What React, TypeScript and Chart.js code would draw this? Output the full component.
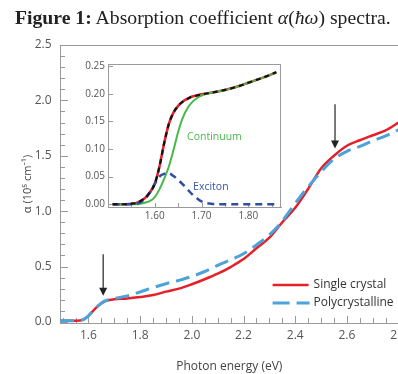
import React, { useEffect, useRef } from 'react';
import { Chart, registerables } from 'chart.js';
Chart.register(...registerables);

// ---------- main chart data ----------
const mainEnergy = [1.49, 1.52, 1.55, 1.58, 1.60, 1.62, 1.64, 1.66, 1.68, 1.70, 1.75, 1.80, 1.85, 1.90, 1.95, 2.00, 2.05, 2.10, 2.15, 2.20, 2.25, 2.30, 2.35, 2.40, 2.45, 2.50, 2.55, 2.60, 2.65, 2.70, 2.75, 2.80];
const singleCrystal = [0.01, 0.01, 0.01, 0.02, 0.055, 0.105, 0.15, 0.18, 0.197, 0.205, 0.212, 0.225, 0.242, 0.273, 0.30, 0.34, 0.385, 0.435, 0.495, 0.567, 0.665, 0.76, 0.90, 1.03, 1.20, 1.385, 1.50, 1.59, 1.64, 1.685, 1.73, 1.80];
const polycrystalline = [0.01, 0.01, 0.01, 0.02, 0.055, 0.105, 0.15, 0.185, 0.20, 0.21, 0.235, 0.27, 0.31, 0.345, 0.375, 0.41, 0.455, 0.51, 0.56, 0.615, 0.695, 0.785, 0.91, 1.07, 1.22, 1.355, 1.47, 1.54, 1.585, 1.635, 1.68, 1.735];
const mainXTickValues = [1.6, 1.8, 2.0, 2.2, 2.4, 2.6, 2.8];
const mainYTickValues = [0, 0.5, 1.0, 1.5, 2.0, 2.5];
const arrowEnergy = [1.657, 2.554];
const arrowStart = [0.61, 1.964];
const arrowEnd = [0.237, 1.565];
const legendLabels = ['Single crystal', 'Polycrystalline'];

// ---------- inset data ----------
const insetEnergy = [1.51, 1.53, 1.55, 1.56, 1.57, 1.58, 1.59, 1.60, 1.61, 1.62, 1.63, 1.64, 1.65, 1.66, 1.67, 1.68, 1.69, 1.70, 1.72, 1.74, 1.76, 1.78, 1.80, 1.82, 1.84, 1.86];
const insetMeasured = [0, 0, 0.001, 0.002, 0.006, 0.012, 0.022, 0.037, 0.068, 0.11, 0.145, 0.166, 0.178, 0.186, 0.191, 0.195, 0.197, 0.199, 0.202, 0.205, 0.209, 0.214, 0.220, 0.226, 0.232, 0.239];
const insetFit = [0, 0, 0.001, 0.002, 0.006, 0.012, 0.022, 0.037, 0.068, 0.11, 0.145, 0.166, 0.178, 0.186, 0.191, 0.195, 0.197, 0.199, 0.202, 0.205, 0.209, 0.214, 0.220, 0.226, 0.232, 0.239];
const insetContinuum = [0, 0, 0, 0, 0.001, 0.003, 0.006, 0.013, 0.027, 0.046, 0.068, 0.098, 0.131, 0.157, 0.174, 0.185, 0.192, 0.197, 0.202, 0.205, 0.209, 0.214, 0.220, 0.226, 0.232, 0.239];
const insetExciton = [0, 0, 0, 0.001, 0.004, 0.01, 0.022, 0.037, 0.05, 0.055, 0.056, 0.051, 0.044, 0.036, 0.027, 0.018, 0.011, 0.005, 0.001, 0, 0, 0, 0, 0, 0, 0];
const insetXTickValues = [1.6, 1.7, 1.8];
const insetYTickValues = [0, 0.05, 0.1, 0.15, 0.2, 0.25];
const insetLabels = ['Continuum', 'Exciton'];
const insetLabelX = [1.669, 1.682];
const insetLabelY = [0.122, 0.032];

const FONT = '"Open Sans", "Noto Sans", "DejaVu Sans", sans-serif';
const AXIS = '#9a9a9a';
const TICKTXT = '#555';

function pts(xs: number[], ys: number[]) {
  return xs.map((x, i) => ({ x, y: ys[i] }));
}

function range(a: number, b: number, step: number) {
  const out: number[] = [];
  for (let v = a; v <= b + 1e-9; v += step) out.push(Math.round(v * 1000) / 1000);
  return out;
}

function makeTickPlugin(o: any) {
  return {
    id: 'inwardTicks',
    beforeDatasetsDraw(chart: any) {
      const { ctx, chartArea: ca, scales } = chart;
      const xs = scales.x, ys = scales.y;
      ctx.save();
      ctx.strokeStyle = AXIS;
      ctx.lineWidth = 1;
      ctx.beginPath();
      ctx.moveTo(ca.left, Math.round(ca.top) + 0.5);
      ctx.lineTo(ca.right, Math.round(ca.top) + 0.5);
      if (o.rightFrame) {
        ctx.moveTo(Math.round(ca.right) - 0.5, ca.top);
        ctx.lineTo(Math.round(ca.right) - 0.5, ca.bottom);
      }
      o.xMinor.forEach((v: number) => {
        const px = Math.round(xs.getPixelForValue(v)) + 0.5;
        if (px < ca.left || px > ca.right) return;
        const major = o.xMajor.some((m: number) => Math.abs(m - v) < 1e-6);
        const len = major ? o.xMajorLen : o.xMinorLen;
        ctx.moveTo(px, ca.bottom);
        ctx.lineTo(px, ca.bottom - len);
      });
      o.yMinor.forEach((v: number) => {
        const py = Math.round(ys.getPixelForValue(v)) + 0.5;
        const major = o.yMajor.some((m: number) => Math.abs(m - v) < 1e-6);
        const len = major ? o.yMajorLen : o.yMinorLen;
        ctx.moveTo(ca.left, py);
        ctx.lineTo(ca.left + len, py);
      });
      ctx.stroke();
      ctx.restore();
    },
  };
}

const mainDecor = {
  id: 'mainDecor',
  afterDatasetsDraw(chart: any) {
    const { ctx, chartArea: ca, scales } = chart;
    ctx.save();
    ctx.strokeStyle = '#222';
    ctx.fillStyle = '#222';
    ctx.lineWidth = 1.2;
    arrowEnergy.forEach((e, i) => {
      const px = scales.x.getPixelForValue(e);
      const y0 = scales.y.getPixelForValue(arrowStart[i]);
      const y1 = scales.y.getPixelForValue(arrowEnd[i]);
      ctx.beginPath();
      ctx.moveTo(px, y0);
      ctx.lineTo(px, y1 - 6);
      ctx.stroke();
      ctx.beginPath();
      ctx.moveTo(px, y1);
      ctx.lineTo(px - 4, y1 - 8);
      ctx.lineTo(px + 4, y1 - 8);
      ctx.closePath();
      ctx.fill();
    });
    const lx1 = ca.right - 126, lx2 = ca.right - 90, tx = ca.right - 85;
    const ly = [ca.bottom - 38, ca.bottom - 20];
    ctx.lineWidth = 2.5;
    ctx.strokeStyle = '#e4202a';
    ctx.beginPath();
    ctx.moveTo(lx1, ly[0]);
    ctx.lineTo(lx2, ly[0]);
    ctx.stroke();
    ctx.lineWidth = 3;
    ctx.strokeStyle = '#4da2da';
    ctx.setLineDash([17, 7]);
    ctx.beginPath();
    ctx.moveTo(lx1, ly[1]);
    ctx.lineTo(lx2 + 1, ly[1]);
    ctx.stroke();
    ctx.setLineDash([]);
    ctx.fillStyle = '#333';
    ctx.font = `12px ${FONT}`;
    ctx.textBaseline = 'middle';
    ctx.textAlign = 'left';
    legendLabels.forEach((t, i) => ctx.fillText(t, tx, ly[i]));
    ctx.restore();
  },
};

const insetDecor = {
  id: 'insetDecor',
  afterDatasetsDraw(chart: any) {
    const { ctx, scales } = chart;
    ctx.save();
    ctx.font = `10.5px ${FONT}`;
    ctx.textBaseline = 'middle';
    ctx.textAlign = 'left';
    const colors = ['#46b94a', '#3a55a8'];
    insetLabels.forEach((t, i) => {
      ctx.fillStyle = colors[i];
      ctx.fillText(t, scales.x.getPixelForValue(insetLabelX[i]), scales.y.getPixelForValue(insetLabelY[i]));
    });
    ctx.restore();
  },
};

function MainChart() {
  const ref = useRef<HTMLCanvasElement>(null);
  useEffect(() => {
    const chart = new Chart(ref.current!, {
      type: 'line',
      data: {
        datasets: [
          { label: legendLabels[0], data: pts(mainEnergy, singleCrystal), borderColor: '#e4202a', borderWidth: 2.5, pointRadius: 0, cubicInterpolationMode: 'monotone', order: 1 },
          { label: legendLabels[1], data: pts(mainEnergy, polycrystalline), borderColor: '#4da2da', borderWidth: 3, borderDash: [14, 7], pointRadius: 0, cubicInterpolationMode: 'monotone', order: 0 },
        ],
      },
      options: {
        responsive: false,
        animation: false,
        layout: { padding: { top: 45, left: 0, right: 21.4, bottom: 0 } },
        plugins: { legend: { display: false }, tooltip: { enabled: false } },
        scales: {
          x: {
            type: 'linear', min: 1.49, max: 2.8,
            afterBuildTicks: (s: any) => { s.ticks = mainXTickValues.map((v) => ({ value: v })); },
            afterFit: (s: any) => { s.height = 374 - 323; },
            grid: { display: false, drawTicks: false },
            border: { display: true, color: AXIS, width: 1 },
            ticks: { color: TICKTXT, font: { family: FONT, size: 12 }, padding: 5, maxRotation: 0, autoSkip: false, callback: (v: any) => Number(v).toFixed(1) },
            title: { display: true, text: 'Photon energy (eV)', color: '#444', font: { family: FONT, size: 12 }, padding: { top: 0, bottom: 0 } },
          },
          y: {
            type: 'linear', min: -0.01, max: 2.5,
            afterBuildTicks: (s: any) => { s.ticks = mainYTickValues.map((v) => ({ value: v })); },
            afterFit: (s: any) => { s.width = 60; },
            grid: { display: false, drawTicks: false },
            border: { display: true, color: AXIS, width: 1 },
            ticks: { color: TICKTXT, font: { family: FONT, size: 12 }, padding: 8.5, callback: (v: any) => Number(v).toFixed(1) },
            title: { display: true, text: 'α (10⁵ cm⁻¹)', color: '#444', font: { family: FONT, size: 11 }, padding: { top: 21.4, bottom: 0 } },
          },
        },
      } as any,
      plugins: [
        makeTickPlugin({ xMinor: range(1.5, 2.8, 0.05), xMajor: mainXTickValues, xMajorLen: 7, xMinorLen: 5, yMinor: range(0, 2.5, 0.1), yMajor: mainYTickValues, yMajorLen: 8, yMinorLen: 5, rightFrame: false }),
        mainDecor,
      ],
    });
    return () => chart.destroy();
  }, []);
  return <canvas ref={ref} width={420} height={374} style={{ position: 'absolute', left: 0, top: 0 }} />;
}

function InsetChart() {
  const ref = useRef<HTMLCanvasElement>(null);
  useEffect(() => {
    const chart = new Chart(ref.current!, {
      type: 'line',
      data: {
        datasets: [
          { label: 'Measured', data: pts(insetEnergy, insetMeasured), borderColor: '#e3232b', borderWidth: 2.6, pointRadius: 0, cubicInterpolationMode: 'monotone', order: 3 },
          { label: 'Continuum', data: pts(insetEnergy, insetContinuum), borderColor: '#46b94a', borderWidth: 2, pointRadius: 0, cubicInterpolationMode: 'monotone', order: 2 },
          { label: 'Exciton', data: pts(insetEnergy, insetExciton), borderColor: '#2f4da3', borderWidth: 2.5, borderDash: [7, 5], pointRadius: 0, cubicInterpolationMode: 'monotone', order: 1 },
          { label: 'Fit', data: pts(insetEnergy, insetFit), borderColor: '#111', borderWidth: 2.2, borderDash: [5, 4], pointRadius: 0, cubicInterpolationMode: 'monotone', order: 0 },
        ],
      },
      options: {
        responsive: false,
        animation: false,
        layout: { padding: { top: 8, left: 0, right: 9, bottom: 0 } },
        plugins: { legend: { display: false }, tooltip: { enabled: false } },
        scales: {
          x: {
            type: 'linear', min: 1.5, max: 1.87,
            afterBuildTicks: (s: any) => { s.ticks = insetXTickValues.map((v) => ({ value: v })); },
            afterFit: (s: any) => { s.height = 28; },
            grid: { display: false, drawTicks: false },
            border: { display: true, color: AXIS, width: 1 },
            ticks: { color: TICKTXT, font: { family: FONT, size: 10 }, padding: 3, maxRotation: 0, autoSkip: false, callback: (v: any) => Number(v).toFixed(2) },
          },
          y: {
            type: 'linear', min: -0.005, max: 0.254,
            afterBuildTicks: (s: any) => { s.ticks = insetYTickValues.map((v) => ({ value: v })); },
            afterFit: (s: any) => { s.width = 68; },
            grid: { display: false, drawTicks: false },
            border: { display: true, color: AXIS, width: 1 },
            ticks: { color: TICKTXT, font: { family: FONT, size: 10 }, padding: 3, callback: (v: any) => Number(v).toFixed(2) },
          },
        },
      } as any,
      plugins: [
        makeTickPlugin({ xMinor: range(1.55, 1.85, 0.05), xMajor: insetXTickValues, xMajorLen: 4, xMinorLen: 4, yMinor: insetYTickValues, yMajor: insetYTickValues, yMajorLen: 5, yMinorLen: 5, rightFrame: true }),
        insetDecor,
      ],
    });
    return () => chart.destroy();
  }, []);
  return <canvas ref={ref} width={250} height={180} style={{ position: 'absolute', left: 40, top: 55 }} />;
}

export default function App() {
  return (
    <div style={{ position: 'fixed', left: 0, top: 0, width: 398, height: 374, overflow: 'hidden', background: '#fff' }}>
      <MainChart />
      <InsetChart />
      <div style={{ position: 'absolute', left: 15, top: 5.5, fontFamily: '"Liberation Serif", "DejaVu Serif", serif', fontSize: 19.7, lineHeight: '22px', whiteSpace: 'nowrap', color: '#222' }}>
        <b>Figure 1:</b> Absorption coefficient <i>α</i>(<i>ħω</i>) spectra.
      </div>
    </div>
  );
}
